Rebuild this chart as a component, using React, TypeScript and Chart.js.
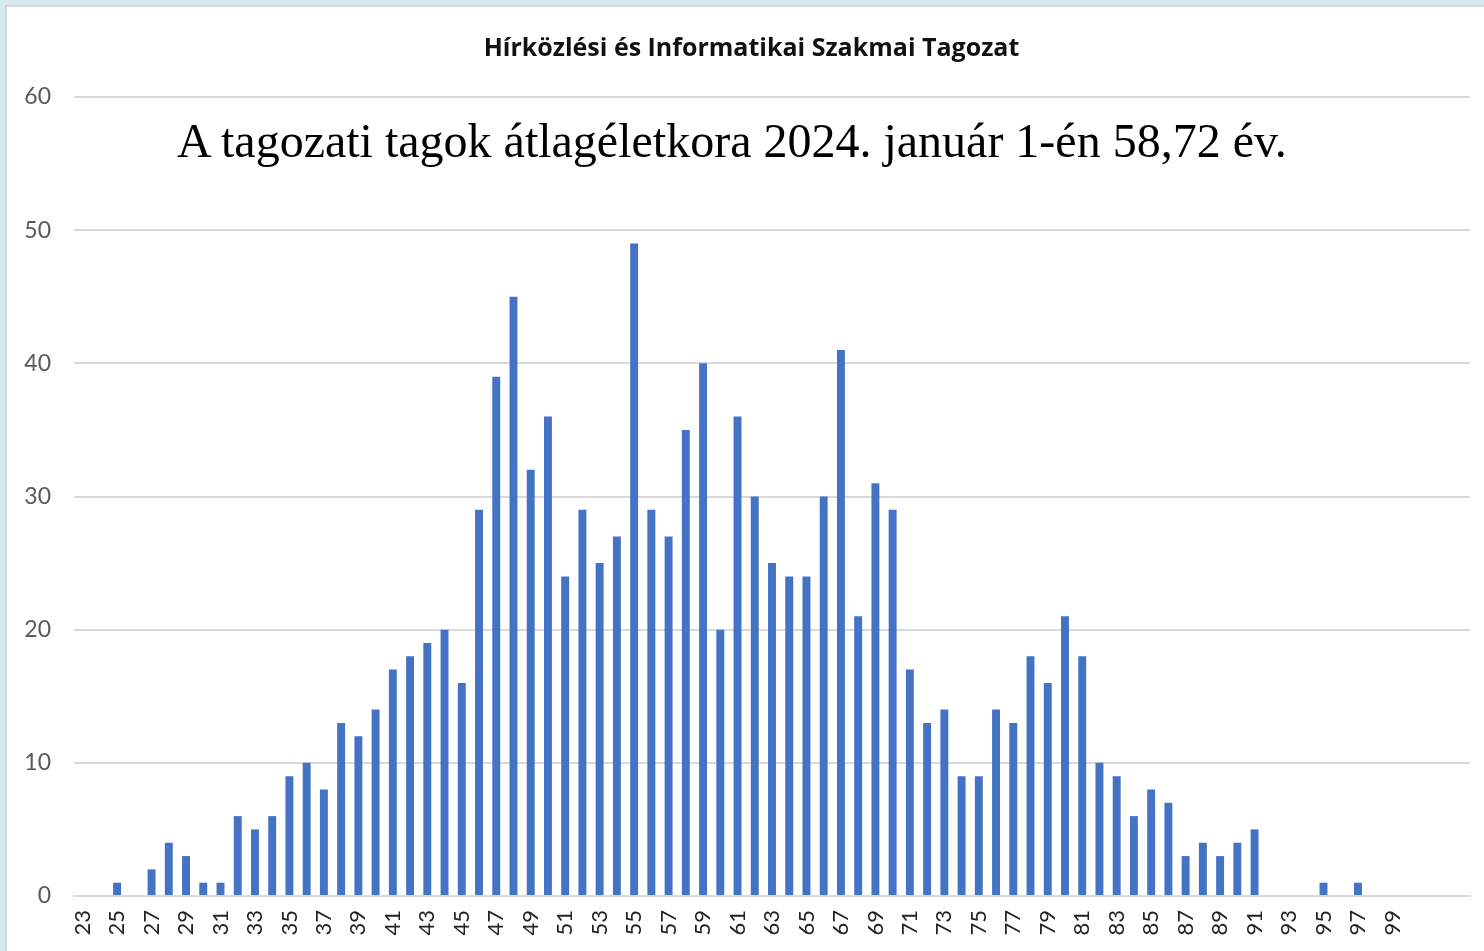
import React, { useEffect, useRef } from "react";
import { Chart, registerables } from "chart.js";

Chart.register(...registerables);

const ages: number[] = [
  23, 24, 25, 26, 27, 28, 29, 30, 31, 32, 33, 34, 35, 36, 37, 38, 39, 40, 41, 42,
  43, 44, 45, 46, 47, 48, 49, 50, 51, 52, 53, 54, 55, 56, 57, 58, 59, 60, 61, 62,
  63, 64, 65, 66, 67, 68, 69, 70, 71, 72, 73, 74, 75, 76, 77, 78, 79, 80, 81, 82,
  83, 84, 85, 86, 87, 88, 89, 90, 91, 92, 93, 94, 95, 96, 97, 98, 99, 100, 101, 102, 103,
];

const members: number[] = [
  0, 0, 1, 0, 2, 4, 3, 1, 1, 6, 5, 6, 9, 10, 8, 13, 12, 14, 17, 18,
  19, 20, 16, 29, 39, 45, 32, 36, 24, 29, 25, 27, 49, 29, 27, 35, 40, 20, 36, 30,
  25, 24, 24, 30, 41, 21, 31, 29, 17, 13, 14, 9, 9, 14, 13, 18, 16, 21, 18, 10,
  9, 6, 8, 7, 3, 4, 3, 4, 5, 0, 0, 0, 1, 0, 1, 0, 0, 0, 0, 0, 0,
];

const yTicks: number[] = [0, 10, 20, 30, 40, 50, 60];
const lastLabelledAge = 99;

const titleText = "Hírközlési és Informatikai Szakmai Tagozat";
const noteText = "A tagozati tagok átlagéletkora 2024. január 1-én 58,72 év.";

export default function App() {
  const canvasRef = useRef<HTMLCanvasElement | null>(null);

  useEffect(() => {
    document.body.style.margin = "0";
    const canvas = canvasRef.current;
    if (!canvas) return;
    const chart = new Chart(canvas, {
      type: "bar",
      data: {
        labels: ages.map(String),
        datasets: [
          {
            data: members,
            backgroundColor: "#4472C4",
            borderWidth: 0,
            barPercentage: 0.46,
            categoryPercentage: 1,
          },
        ],
      },
      options: {
        responsive: false,
        animation: false,
        layout: { padding: { top: 90, right: 14, bottom: 0, left: 0 } },
        plugins: {
          legend: { display: false },
          title: { display: false },
          tooltip: { enabled: false },
        },
        scales: {
          x: {
            grid: { display: false, drawTicks: false },
            border: { display: true, color: "#d9d9d9", width: 2 },
            ticks: {
              autoSkip: false,
              maxRotation: 90,
              minRotation: 90,
              padding: 14,
              color: "#222222",
              font: { family: "Lato", size: 22 },
              callback: (_v: any, i: number) => {
                const a = ages[i];
                return (a - ages[0]) % 2 === 0 && a <= lastLabelledAge ? String(a) : "";
              },
            },
            afterFit: (scale: any) => {
              scale.height = 55;
              scale.paddingLeft = 0;
              scale.paddingRight = 0;
            },
          },
          y: {
            min: 0,
            max: 60,
            afterBuildTicks: (scale: any) => {
              scale.ticks = yTicks.map((v) => ({ value: v }));
            },
            grid: { color: "#d9d9d9", lineWidth: 2, drawTicks: false },
            border: { display: false },
            ticks: {
              padding: 23,
              color: "#595959",
              font: { family: "Lato", size: 23 },
            },
            afterFit: (scale: any) => {
              scale.width = 67;
              scale.paddingTop = 0;
              scale.paddingBottom = 0;
            },
          },
        },
      },
    });
    return () => chart.destroy();
  }, []);

  return (
    <div style={{ position: "fixed", left: 0, top: 0, width: 1484, height: 951, background: "#d4eaee", overflow: "hidden" }}>
      <div
        style={{
          position: "absolute",
          left: 5,
          top: 5,
          width: 1479,
          height: 946,
          background: "#ffffff",
          borderLeft: "2px solid #d9d9d9",
          borderTop: "2px solid #d9d9d9",
        }}
      />
      <canvas ref={canvasRef} width={1477} height={944} style={{ position: "absolute", left: 7, top: 7 }} />
      <div
        style={{
          position: "absolute",
          left: 0,
          width: 1503,
          top: 29,
          textAlign: "center",
          fontFamily: "'Open Sans'",
          fontWeight: 700,
          fontSize: 25,
          lineHeight: "34px",
          color: "#111111",
          whiteSpace: "nowrap",
        }}
      >
        {titleText}
      </div>
      <div
        style={{
          position: "absolute",
          left: 177,
          top: 117,
          fontFamily: "'Liberation Serif', serif",
          fontSize: 48,
          lineHeight: "48px",
          color: "#000000",
          whiteSpace: "nowrap",
        }}
      >
        {noteText}
      </div>
    </div>
  );
}
